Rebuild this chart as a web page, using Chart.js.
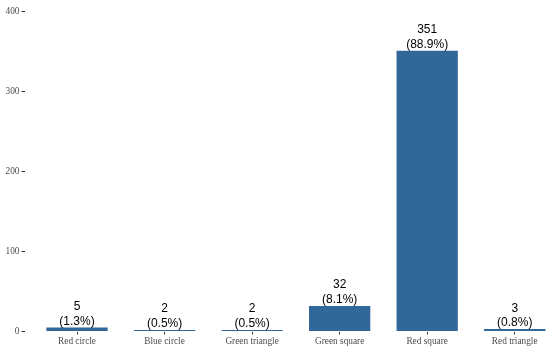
<!DOCTYPE html>
<html>
<head>
<meta charset="utf-8">
<script src="https://cdn.jsdelivr.net/npm/chart.js@4/dist/chart.umd.min.js"></script>
<style>
  html, body { margin: 0; padding: 0; background: #fff; overflow: hidden; }
  #box { width: 550px; height: 352px; position: relative; }
</style>
</head>
<body>
<div id="box"><canvas id="ShapeBox"></canvas></div>
<script>
        const categories = ['Red circle', 'Blue circle', 'Green triangle', 'Green square', 'Red square', 'Red triangle'];
        const counts = [5, 2, 2, 32, 351, 3];
        const yTicks = [0, 100, 200, 300, 400];

        const total = counts.reduce((a, b) => a + b, 0);
        const axisFont = { family: "'Liberation Serif', 'Times New Roman', serif", size: 9.3 };

        // count + percentage above each bar, two lines
        const barLabels = {
            id: 'barLabels',
            afterDatasetsDraw(chart) {
                const ctx = chart.ctx;
                const meta = chart.getDatasetMeta(0);
                ctx.save();
                ctx.font = "12px 'Liberation Sans', Arial, sans-serif";
                ctx.fillStyle = '#000';
                ctx.textAlign = 'center';
                ctx.textBaseline = 'alphabetic';
                meta.data.forEach((bar, i) => {
                    const pct = (counts[i] / total * 100).toFixed(1);
                    ctx.fillText(String(counts[i]), bar.x, bar.y - 17.5);
                    ctx.fillText('(' + pct + '%)', bar.x, bar.y - 3);
                });
                ctx.restore();
            }
        };

        const ShapeConfig = {
            type: 'bar',
            data: {
                datasets: [{
                    data: counts.map((v, i) => ({ x: i, y: v })),
                    backgroundColor: '#32679a',
                    borderWidth: 0,
                    barPercentage: 0.7,
                    categoryPercentage: 1.0
                }]
            },
            options: {
                responsive: true,
                maintainAspectRatio: false,
                animation: false,
                layout: { padding: { top: 11.5, right: 0, left: 0, bottom: 0 } },
                scales: {
                    x: {
                        type: 'linear',
                        min: -0.6,
                        max: 5.403,
                        offset: false,
                        afterBuildTicks: (scale) => { scale.ticks = categories.map((c, i) => ({ value: i })); },
                        afterFit: (scale) => { scale.height = 20.5; },
                        grid: { offset: false, drawOnChartArea: false, drawTicks: true, tickLength: 3, tickColor: '#333333', tickWidth: 1 },
                        border: { display: false },
                        ticks: {
                            autoSkip: false,
                            maxRotation: 0,
                            padding: 1,
                            color: '#4d4d4d',
                            font: axisFont,
                            callback: (v) => categories[v]
                        }
                    },
                    y: {
                        min: 0,
                        max: 400,
                        afterBuildTicks: (scale) => { scale.ticks = yTicks.map(v => ({ value: v })); },
                        afterFit: (scale) => { scale.width = 24.5; },
                        grid: { drawOnChartArea: false, drawTicks: true, tickLength: 3, tickColor: '#333333', tickWidth: 1 },
                        border: { display: false },
                        ticks: {
                            padding: 2,
                            color: '#4d4d4d',
                            font: axisFont
                        }
                    }
                },
                plugins: {
                    legend: { display: false },
                    tooltip: { enabled: false }
                }
            },
            plugins: [barLabels]
        };

        window.onload = function() {
            const ctx = document.getElementById('ShapeBox').getContext('2d');
            new Chart(ctx, ShapeConfig);
        };
</script>
</body>
</html>
